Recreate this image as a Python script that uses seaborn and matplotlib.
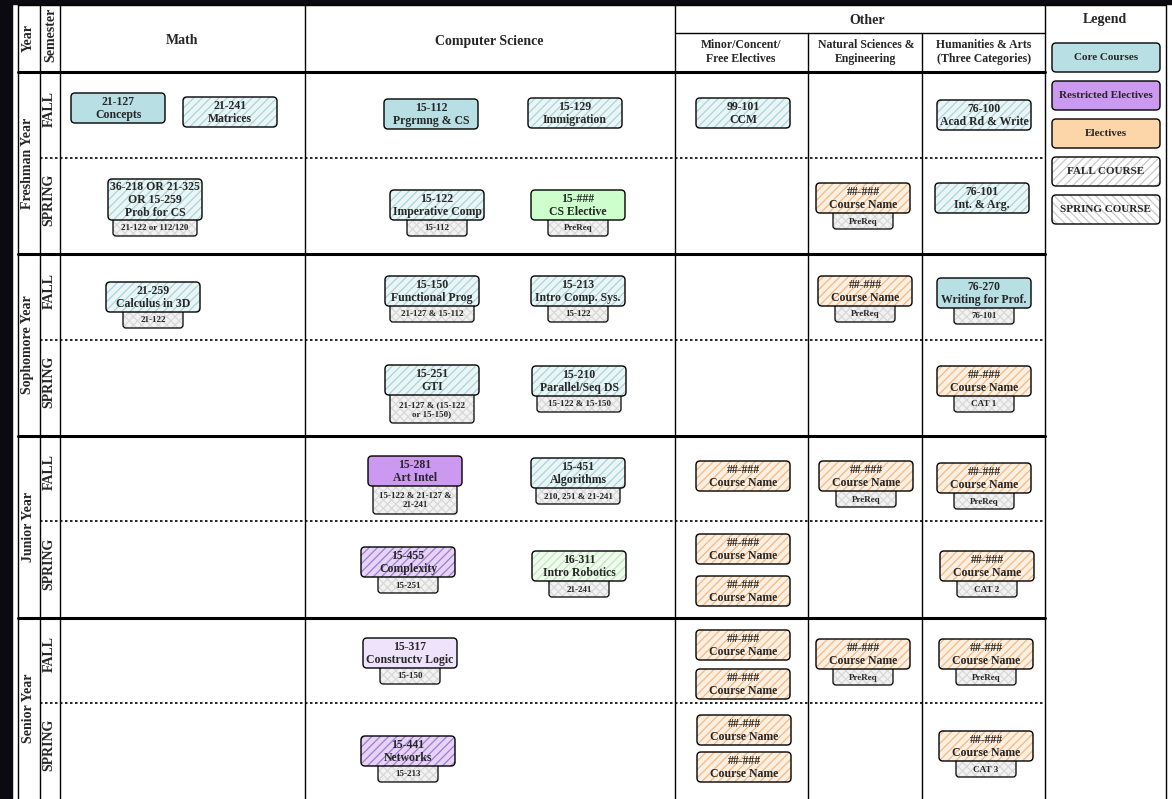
import matplotlib
matplotlib.use("Agg")
import matplotlib.pyplot as plt
from matplotlib.patches import FancyBboxPatch, Rectangle
import seaborn as sns

sns.set_theme(style="white")
plt.rcParams["hatch.linewidth"] = 0.9
FONT = "Liberation Serif"

# ---------------- data ----------------
years = ["Freshman Year", "Sophomore Year", "Junior Year", "Senior Year"]
semesters = ["FALL", "SPRING"]
legend_items = ["Core Courses", "Restricted Electives", "Electives", "FALL COURSE", "SPRING COURSE"]
legend_kinds = ["core", "purple", "orange_s", "fall", "spring"]

codes = ["21-127", "21-241", "15-112", "15-129", "99-101", "76-100",
         "36-218 OR 21-325\nOR 15-259", "15-122", "15-###", "##-###", "76-101",
         "21-259", "15-150", "15-213", "##-###", "76-270",
         "15-251", "15-210", "##-###",
         "15-281", "15-451", "##-###", "##-###", "##-###",
         "15-455", "16-311", "##-###", "##-###", "##-###",
         "15-317", "##-###", "##-###", "##-###", "##-###",
         "15-441", "##-###", "##-###", "##-###"]
names = ["Concepts", "Matrices", "Prgrmng & CS", "Immigration", "CCM", "Acad Rd & Write",
         "Prob for CS", "Imperative Comp", "CS Elective", "Course Name", "Int. & Arg.",
         "Calculus in 3D", "Functional Prog", "Intro Comp. Sys.", "Course Name", "Writing for Prof.",
         "GTI", "Parallel/Seq DS", "Course Name",
         "Art Intel", "Algorithms", "Course Name", "Course Name", "Course Name",
         "Complexity", "Intro Robotics", "Course Name", "Course Name", "Course Name",
         "Constructv Logic", "Course Name", "Course Name", "Course Name", "Course Name",
         "Networks", "Course Name", "Course Name", "Course Name"]
kinds = ["core", "core_h", "core", "core_h", "core_h", "core_h",
         "core_h", "core_h", "green", "orange", "core_h",
         "core_h", "core_h", "core_h", "orange", "core",
         "core_h", "core_h", "orange",
         "purple", "core_h", "orange", "orange", "orange",
         "purple_h", "green_h", "orange", "orange", "orange",
         "lav", "orange", "orange", "orange", "orange",
         "purple_h", "orange", "orange", "orange"]
prereqs = ["", "", "", "", "", "",
           "21-122 or 112/120", "15-112", "PreReq", "PreReq", "",
           "21-122", "21-127 & 15-112", "15-122", "PreReq", "76-101",
           "21-127 & (15-122\nor 15-150)", "15-122 & 15-150", "CAT 1",
           "15-122 & 21-127 &\n21-241", "210, 251 & 21-241", "", "PreReq", "PreReq",
           "15-251", "21-241", "", "", "CAT 2",
           "15-150", "", "", "PreReq", "PreReq",
           "15-213", "", "", "CAT 3"]
# layout (pixel positions of box left / top)
box_left = [71, 183, 384, 528, 696, 937,
            108, 390, 531, 816, 935,
            106, 385, 531, 818, 937,
            385, 532, 937,
            368, 531, 696, 819, 937,
            361, 532, 696, 696, 940,
            363, 696, 696, 816, 939,
            361, 697, 697, 939]
box_top = [93, 97, 99, 98, 98, 100,
           179, 190, 190, 183, 183,
           282, 276, 276, 276, 278,
           365, 366, 366,
           456, 458, 461, 461, 463,
           547, 551, 534, 576, 551,
           638, 630, 669, 639, 639,
           736, 715, 752, 731]

STY = {
    "core":     ("#b8e0e4", None, None),
    "core_h":   ("#eaf5f6", "////", "#a9d4da"),
    "green":    ("#ccffcc", None, None),
    "green_h":  ("#f0fbef", "////", "#bde8b8"),
    "orange":   ("#fdf0e2", "////", "#f5b980"),
    "orange_s": ("#fcd5a8", None, None),
    "purple":   ("#cc99f0", None, None),
    "purple_h": ("#e6d4f5", "////", "#a07ad8"),
    "lav":      ("#efe3fb", None, None),
    "fall":     ("#ffffff", "////", "#c8c8c8"),
    "spring":   ("#ffffff", "\\\\\\\\", "#c8c8c8"),
    "tab":      ("#f2f2f2", "xxxx", "#d8d8d8"),
}

W, H = 1172, 799
fig = plt.figure(figsize=(W / 100, H / 100), dpi=100)
ax = fig.add_axes([0, 0, 1, 1])
ax.set_xlim(0, W)
ax.set_ylim(H, 0)
ax.axis("off")


def box(x, y, w, h, kind, r=4, z=3, lw=1.0):
    fc, hatch, hc = STY[kind]
    ax.add_patch(FancyBboxPatch((x, y), w, h, boxstyle=f"round,pad=0,rounding_size={r}",
                                facecolor=fc, edgecolor=hc if hc else fc, hatch=hatch,
                                lw=0, zorder=z))
    ax.add_patch(FancyBboxPatch((x, y), w, h, boxstyle=f"round,pad=0,rounding_size={r}",
                                facecolor="none", edgecolor="black", lw=lw, zorder=z + 0.1))


def txt(x, y, s, size=8.5, rot=0, ls=1.2, **kw):
    ax.text(x, y, s, fontsize=size, fontfamily=FONT, fontweight="bold", rotation=rot,
            ha="center", va="center", zorder=10, linespacing=ls, **kw)


# background strips
ax.add_patch(Rectangle((0, 0), 12, H, color="#0a0a10", zorder=0))
ax.add_patch(Rectangle((0, 0), W, 4, color="#0a0a10", zorder=0))

# grid
L, R, T = 18, 1166, 5
for x in [18, 40, 60, 305, 675, 1045, 1166]:
    ax.plot([x, x], [T, H], color="black", lw=1.0, zorder=1)
for x in [808, 922]:
    ax.plot([x, x], [33, H], color="black", lw=1.0, zorder=1)
ax.plot([L, R], [T, T], color="black", lw=1.0, zorder=1)
ax.plot([L, 1045], [72, 72], color="black", lw=2.2, zorder=1)
ax.plot([675, 1045], [33, 33], color="black", lw=1.0, zorder=1)
for y in [254, 436, 618]:
    ax.plot([L, 1045], [y, y], color="black", lw=2.2, zorder=1)
for y in [158, 340, 521, 703]:
    ax.plot([40, 1045], [y, y], color="black", lw=1.2, ls=(0, (1.5, 1.5)), zorder=1)

# headers
txt(28, 38, "Year", size=10, rot=90)
txt(51, 35, "Semester", size=10, rot=90)
txt(182, 41, "Math", size=10)
txt(489, 41, "Computer Science", size=10)
txt(867, 20, "Other", size=10)
txt(741, 52, "Minor/Concent/\nFree Electives", size=8.5, ls=1.3)
txt(866, 52, "Natural Sciences &\nEngineering", size=8.5, ls=1.3)
txt(984, 52, "Humanities & Arts\n(Three Categories)", size=8.5, ls=1.3)
txt(1105, 20, "Legend", size=10)

row_edges = [72, 158, 254, 340, 436, 521, 618, 703, 799]
for i, yname in enumerate(years):
    txt(28, (row_edges[2 * i] + row_edges[2 * i + 2]) / 2, yname, size=10, rot=90)
    for j, s in enumerate(semesters):
        k = 2 * i + j
        txt(49, (row_edges[k] + row_edges[k + 1]) / 2 - 6, s, size=10, rot=90)

# courses
BW = 94
for code, name, kind, pre, x, y in zip(codes, names, kinds, prereqs, box_left, box_top):
    nlines = code.count("\n") + 2
    bh = 14 * nlines - 1 if nlines > 2 else 30
    cx = x + BW / 2
    if pre:
        plines = pre.count("\n") + 1
        tw = 84 if len(pre) > 12 else 60
        th = 12 * plines + 4
        box(cx - tw / 2, y + bh - 4, tw, th + 4, "tab", r=3, z=2, lw=0.9)
        txt(cx, y + bh + th / 2 + 0.5, pre, size=6.5, ls=1.15)
    box(x, y, BW, bh, kind)
    txt(cx, y + bh / 2 + 0.5, code + "\n" + name, size=8.5, ls=1.12)

# legend
for k, (lab, kind) in enumerate(zip(legend_items, legend_kinds)):
    y = 43 + 38 * k
    box(1052, y, 108, 29, kind)
    txt(1106, y + 14.5, lab, size=8)

fig.savefig("out.png", dpi=100)
